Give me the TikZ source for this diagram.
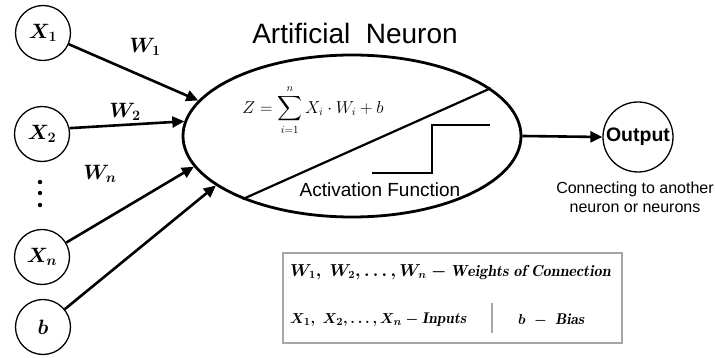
\documentclass[tikz,border=0pt]{standalone}
\usepackage{fontspec}
\usepackage{amsmath}
\newfontfamily\arial{Liberation Sans}
\usetikzlibrary{arrows.meta,shapes.geometric}
\begin{document}
\begin{tikzpicture}[x=1pt,y=-1pt,
  inp/.style={circle,draw,line width=1.3pt,minimum size=55pt,inner sep=0pt,font=\fontsize{20}{24}\selectfont\boldmath},
  conn/.style={line width=2.6pt,-{Triangle[length=12pt,width=11pt]}},
  lbl/.style={font=\fontsize{20}{24}\selectfont\boldmath},
  legend/.style={font=\fontsize{15.5}{18}\selectfont\boldmath,anchor=west,inner sep=0pt},
]
\useasboundingbox (0,0) rectangle (715,358);

% inputs
\node[inp] (x1) at (43,33) {$X_1$};
\node[inp] (x2) at (42,134) {$X_2$};
\node[inp] (xn) at (42,257) {$X_n$};
\node[inp] (b) at (43,327) {$b$};
\foreach \yy in {182,193,205} \fill (40,\yy) circle (2.2pt);

% neuron
\node[ellipse,draw,line width=2.8pt,minimum width=338pt,minimum height=162pt,inner sep=0pt] (neuron) at (352,136) {};
\node[font=\arial\fontsize{28}{32}\selectfont] (title) at (355,33) {Artificial\ \ Neuron};
\draw[line width=2.2pt] (neuron.210.6) -- (neuron.19.7);
\node[font=\fontsize{16}{19}\selectfont,inner sep=0pt] (formula) at (313,110) {$Z=\displaystyle\sum_{i=1}^{n} X_i\cdot W_i+b$};
\draw[line width=2.2pt] (372,173) -- (432,173) -- (432,125) -- (490,125);
\node[font=\arial\fontsize{19}{22}\selectfont] (act) at (380,190) {Activation Function};

% connectors
\draw[conn] (x1) -- (neuron.167);
\draw[conn] (x2.12) -- (neuron.175);
\draw[conn] (xn) -- (neuron.191);
\draw[conn] (b) -- (neuron.200.5);
\node[lbl] (w1) at (145,47) {$W_1$};
\node[lbl] (w2) at (125,112) {$W_2$};
\node[lbl] (wn) at (100,174) {$W_n$};

% output
\node[circle,draw,line width=1.3pt,minimum size=70pt,inner sep=0pt,font=\arial\bfseries\fontsize{19.5}{22}\selectfont] (out) at (638,137) {Output};
\draw[conn] (neuron.east) -- (out.west);
\node[align=center,font=\arial\fontsize{16}{19}\selectfont] (cap) at (635,197) {Connecting to another\\neuron or neurons};

% legend
\draw[gray!70,line width=2.5pt] (283,253) rectangle (622,343);
\node[legend,font=\fontsize{16}{19}\selectfont\boldmath] (l1) at (290,272) {$W_1,\ W_2,\dots,W_n -\mathit{Weights\ of\ Connection}$};
\node[legend] (l2) at (290,320) {$X_1,\ X_2,\dots,X_n - \mathit{Inputs}$};
\node[legend] (l3) at (518,320) {$b\ -\ \mathit{Bias}$};
\draw[gray!70,line width=2.5pt] (492,303) -- (492,333);
\end{tikzpicture}
\end{document}
